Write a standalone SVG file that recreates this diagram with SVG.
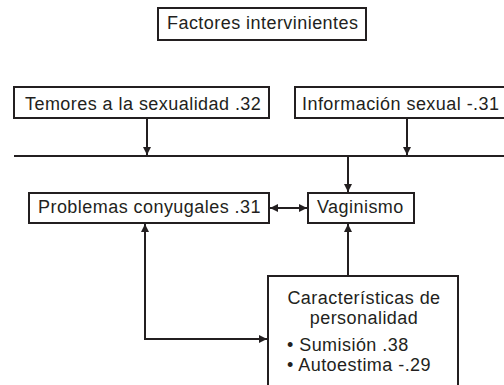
<svg xmlns="http://www.w3.org/2000/svg" width="504" height="385" viewBox="0 0 504 385">
<style>
.box{fill:#fff;stroke:#231f20;stroke-width:2}
.t{font-family:"Liberation Sans",Arial,sans-serif;font-size:18px;letter-spacing:0.45px;fill:#231f20}
.c{text-anchor:middle}
.ln{fill:none;stroke:#231f20;stroke-width:2}
</style>
<defs>
<marker id="ah" viewBox="0 0 10 10" refX="10" refY="5" markerWidth="8" markerHeight="8" markerUnits="userSpaceOnUse" orient="auto-start-reverse">
<path d="M0,0 L10,5 L0,10 Z" fill="#231f20"/>
</marker>
</defs>
<rect width="504" height="385" fill="#fff"/>
<g id="connectors">
<line class="ln" x1="14" y1="156" x2="504" y2="156"/>
<line class="ln" x1="147" y1="118" x2="147" y2="155" marker-end="url(#ah)"/>
<line class="ln" x1="407" y1="118" x2="407" y2="155" marker-end="url(#ah)"/>
<line class="ln" x1="348" y1="156" x2="348" y2="192" marker-end="url(#ah)"/>
<line class="ln" x1="348" y1="276" x2="348" y2="224" marker-end="url(#ah)"/>
<line class="ln" x1="270" y1="208" x2="307" y2="208" marker-start="url(#ah)" marker-end="url(#ah)"/>
<polyline class="ln" points="145,224 145,339 267,339" marker-start="url(#ah)" marker-end="url(#ah)"/>
</g>
<g id="factores">
<rect class="box" x="158" y="8" width="208" height="32"/>
<text class="t" x="167" y="29">Factores intervinientes</text>
</g>
<g id="temores">
<rect class="box" x="14" y="87" width="255" height="31"/>
<text class="t" x="25" y="110">Temores a la sexualidad .32</text>
</g>
<g id="informacion">
<rect class="box" x="295" y="87" width="215" height="31"/>
<text class="t" x="302" y="110">Información sexual -.31</text>
</g>
<g id="problemas">
<rect class="box" x="29" y="193" width="240" height="30"/>
<text class="t" x="38" y="213">Problemas conyugales .31</text>
</g>
<g id="vaginismo">
<rect class="box" x="308" y="193" width="106" height="30"/>
<text class="t" x="317" y="213">Vaginismo</text>
</g>
<g id="caracteristicas">
<rect class="box" x="268" y="276" width="190" height="110"/>
<text class="t c" x="364" y="304">Características de</text>
<text class="t c" x="364" y="324">personalidad</text>
<text class="t" x="287" y="351">• Sumisión .38</text>
<text class="t" x="287" y="371">• Autoestima -.29</text>
</g>
</svg>
